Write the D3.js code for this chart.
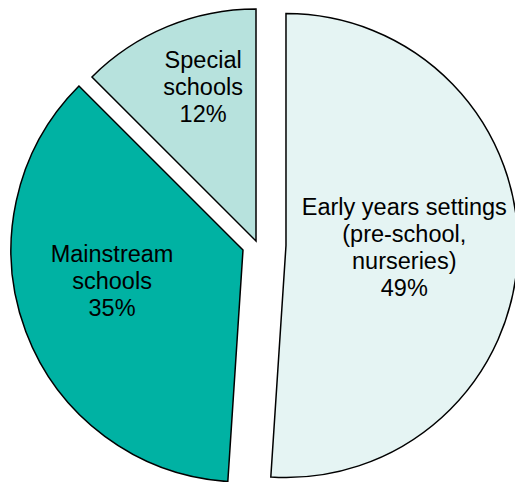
<!DOCTYPE html>
<html lang="en">
<head>
  <meta charset="UTF-8"/>
  <title>Exploded pie with D3.js</title>
  <script src="https://d3js.org/d3.v7.min.js"></script>
  <style>
    body { margin: 0; background: #fff; }
    svg { display: block; }
    text.label {
      font-family: 'Liberation Sans', Arial, sans-serif;
      font-size: 23.5px;
      fill: #000;
    }
    path.slice {
      stroke: #000;
      stroke-width: 1.5;
    }
  </style>
</head>
<body>
  <svg width="515" height="482"></svg>

<script>
    // data
    const categories = [
      ['Early years settings', '(pre-school,', 'nurseries)'],
      ['Mainstream', 'schools'],
      ['Special', 'schools']
    ];
    const values = [49, 35, 12];
    const colours = ['#E5F4F3', '#00B2A3', '#B7E2DD'];

    // layout tweaks per slice (explosion, label placement)
    const explode = [28.5, 15.5, 3.9];
    const labelFrac = [0.51, 0.58, 0.70];
    const labelTurn = [-0.9, 7.3, 3.5]; // degrees

    const cx = 257.5, cy = 244.6, radius = 232;
    const lineH = 27;

    const svg = d3.select('svg');
    const chart = svg.append('g')
      .attr('transform', `translate(${cx}, ${cy})`);

    const pie = d3.pie().sort(null).value(d => d);
    const arcs = pie(values);
    const arc = d3.arc().innerRadius(0).outerRadius(radius);

    const slice = chart.selectAll('g.part')
      .data(arcs)
      .enter().append('g')
      .attr('class', 'part')
      .attr('transform', (d, i) => {
        const mid = (d.startAngle + d.endAngle) / 2;
        return `translate(${Math.sin(mid) * explode[i]}, ${-Math.cos(mid) * explode[i]})`;
      });

    slice.append('path')
      .attr('class', 'slice')
      .attr('d', arc)
      .attr('fill', (d, i) => colours[i]);

    slice.each(function(d, i) {
      const mid = (d.startAngle + d.endAngle) / 2 + labelTurn[i] * Math.PI / 180;
      const r = radius * labelFrac[i];
      const lx = Math.sin(mid) * r;
      const ly = -Math.cos(mid) * r;
      const lines = categories[i].concat([values[i] + '%']);
      const top = ly - (lines.length - 1) * lineH / 2 + 8;
      const t = d3.select(this).append('text')
        .attr('class', 'label')
        .attr('text-anchor', 'middle');
      lines.forEach((s, k) => {
        t.append('tspan')
          .attr('x', lx)
          .attr('y', top + k * lineH)
          .text(s);
      });
    });
</script>
</body>
</html>
